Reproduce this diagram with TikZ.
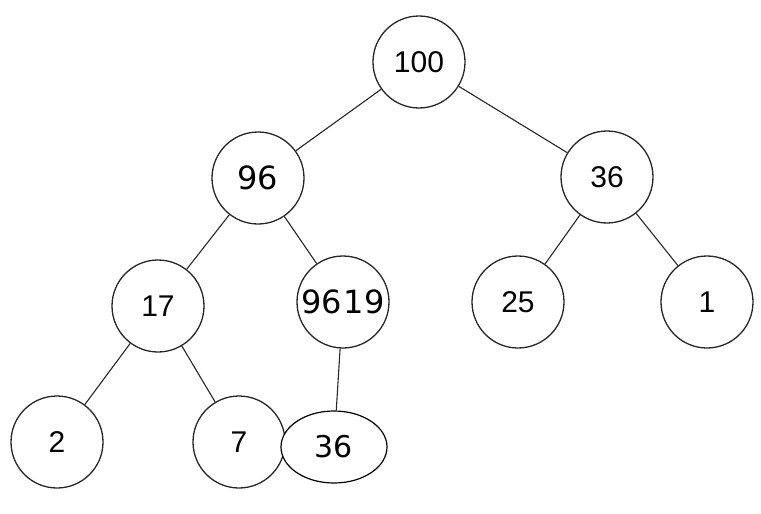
\documentclass[tikz,border=0pt]{standalone}
\usepackage{fontspec}
\setmainfont{Liberation Sans}
\newfontfamily\handfont{DejaVu Sans}
\usetikzlibrary{shapes.geometric}
\tikzset{
  heapnode/.style={circle, draw=black!85, line width=1.3pt, minimum size=92pt, inner sep=0pt, font=\fontsize{30}{30}\selectfont},
  handnode/.style={heapnode, font=\handfont\fontsize{32}{32}\selectfont},
  edge/.style={draw=black!85, line width=1.1pt}
}
\begin{document}
\begin{tikzpicture}[x=1pt,y=-1pt]
\useasboundingbox (0,0) rectangle (761,514);
\node[heapnode] (n100) at (419,62) {100};
\node[handnode] (n96) at (258,178) {96};
\node[heapnode] (n36) at (607,177) {36};
\node[heapnode] (n17) at (158,306) {17};
\node[handnode] (n19) at (343,302) {96\hspace{2pt}19};
\node[heapnode] (n25) at (518,302) {25};
\node[heapnode] (n1) at (707,302) {1};
\node[heapnode] (n2) at (57,442) {2};
\node[heapnode] (n7) at (239,442) {7};
\node[ellipse, draw=black, line width=1.2pt, minimum width=106pt, minimum height=72pt, inner sep=0pt, font=\handfont\fontsize{30}{30}\selectfont, fill=white] (n3) at (334,447) {36};
\draw[edge] (n100) -- (n96);
\draw[edge] (n100) -- (n36);
\draw[edge] (n96) -- (n17);
\draw[edge] (n96) -- (n19);
\draw[edge] (n36) -- (n25);
\draw[edge] (n36) -- (n1);
\draw[edge] (n17) -- (n2);
\draw[edge] (n17) -- (n7);
\draw[edge] (n19) -- (n3);
\end{tikzpicture}
\end{document}
